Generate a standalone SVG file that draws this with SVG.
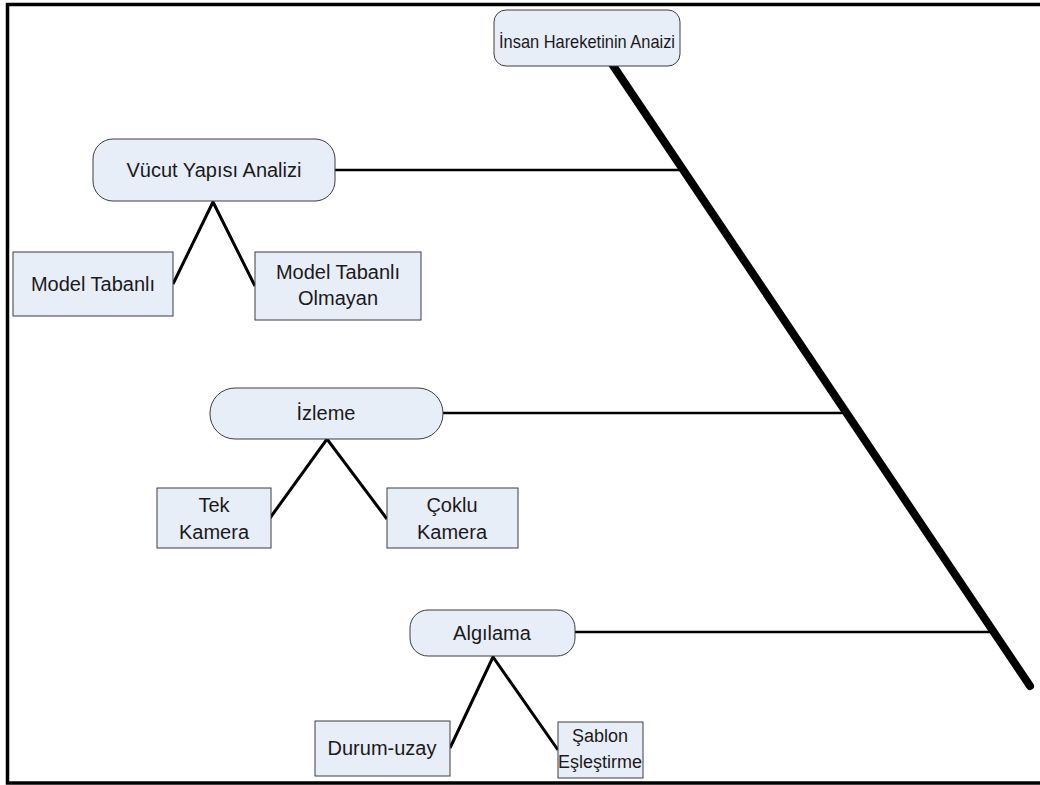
<svg xmlns="http://www.w3.org/2000/svg" width="1040" height="785" viewBox="0 0 1040 785">
  <style>
    .bg { fill: #ffffff; }
    .frame { fill: none; stroke: #000; stroke-width: 3.5; }
    .node { fill: #e8eef8; stroke: #3c3c3c; stroke-width: 1; }
    .label { font-family: "Liberation Sans", Arial, sans-serif; font-size: 20px; fill: #1a1a1a; text-anchor: middle; }
    .title { font-size: 18.5px; }
    .small { font-size: 18px; }
    .spine { stroke: #000; stroke-width: 8; stroke-linecap: round; fill: none; }
    .rib { stroke: #000; stroke-width: 2.5; fill: none; }
    .branch { stroke: #000; stroke-width: 3; fill: none; }
  </style>
  <rect class="bg" x="0" y="0" width="1040" height="785"/>
  <rect class="frame" x="7.5" y="4.5" width="1040" height="778.5"/>

  <!-- connectors -->
  <g id="connectors">
    <line class="spine" x1="612" y1="64" x2="1030" y2="686"/>
    <line class="rib" x1="335" y1="170" x2="684" y2="170"/>
    <line class="rib" x1="443" y1="413" x2="846" y2="413"/>
    <line class="rib" x1="575" y1="632" x2="994" y2="632"/>
    <polyline class="branch" points="173,284 213,202 255,286"/>
    <polyline class="branch" points="270,518 327,439 387,519"/>
    <polyline class="branch" points="450,748 493,657 558,750"/>
  </g>

  <g id="root">
    <rect class="node" x="494" y="10" width="186" height="56" rx="12"/>
    <text class="label title" x="587" y="48" textLength="176" lengthAdjust="spacingAndGlyphs">İnsan Hareketinin Anaizi</text>
  </g>

  <g id="vucut">
    <rect class="node" x="93" y="139" width="242" height="62" rx="20"/>
    <text class="label" x="214" y="177">Vücut Yapısı Analizi</text>
  </g>
  <g id="model-tabanli">
    <rect class="node" x="13" y="252" width="160" height="64"/>
    <text class="label" x="93" y="291">Model Tabanlı</text>
  </g>
  <g id="model-tabanli-olmayan">
    <rect class="node" x="255" y="252" width="166" height="68"/>
    <text class="label" x="338" y="279">Model Tabanlı</text>
    <text class="label" x="338" y="305">Olmayan</text>
  </g>

  <g id="izleme">
    <rect class="node" x="210" y="388" width="233" height="51" rx="25"/>
    <text class="label" x="326" y="420">İzleme</text>
  </g>
  <g id="tek-kamera">
    <rect class="node" x="157" y="488" width="114" height="60"/>
    <text class="label" x="214" y="512">Tek</text>
    <text class="label" x="214" y="539">Kamera</text>
  </g>
  <g id="coklu-kamera">
    <rect class="node" x="387" y="488" width="131" height="60"/>
    <text class="label" x="452" y="512">Çoklu</text>
    <text class="label" x="452" y="539">Kamera</text>
  </g>

  <g id="algilama">
    <rect class="node" x="410" y="610" width="165" height="46" rx="18"/>
    <text class="label" x="492" y="640">Algılama</text>
  </g>
  <g id="durum-uzay">
    <rect class="node" x="315" y="721" width="135" height="55"/>
    <text class="label" x="382" y="755">Durum-uzay</text>
  </g>
  <g id="sablon">
    <rect class="node" x="558" y="722" width="85" height="56"/>
    <text class="label small" x="600" y="742">Şablon</text>
    <text class="label small" x="600" y="768">Eşleştirme</text>
  </g>
</svg>
